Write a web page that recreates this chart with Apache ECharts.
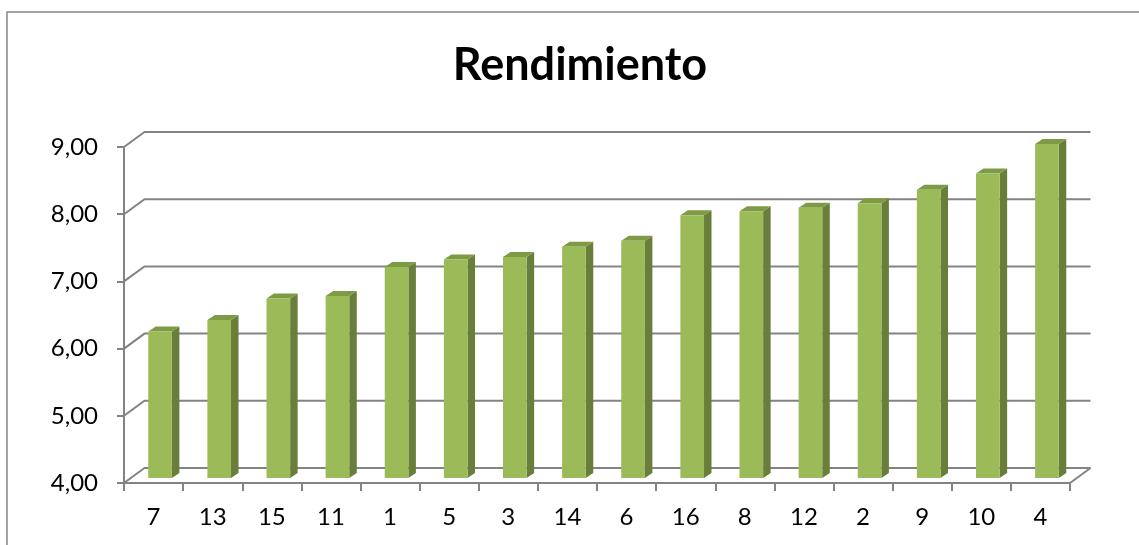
<!DOCTYPE html>
<html>
<head>
<meta charset="utf-8">
<script src="https://cdn.jsdelivr.net/npm/echarts@6/dist/echarts.min.js"></script>
<style>
  html, body { margin: 0; padding: 0; background: #fff; }
  #chart { width: 1139px; height: 545px; }
</style>
</head>
<body>
<div id="chart"></div>
<script>
// Rendimiento por alumno, ordenado de menor a mayor
const categories = ['7', '13', '15', '11', '1', '5', '3', '14', '6', '16', '8', '12', '2', '9', '10', '4'];
const values = [6.18, 6.35, 6.67, 6.71, 7.14, 7.25, 7.29, 7.44, 7.53, 7.91, 7.97, 8.02, 8.09, 8.29, 8.53, 8.97];
const yTicks = [4, 5, 6, 7, 8, 9];
const yMin = 4, yMax = 9;

const FONT = 'Lato';
// pseudo-3D depth of the wall and of each column
const WALL_DX = 20.5, WALL_DY = -15;
const BAR_DX = 7.5, BAR_DY = -5, BAR_LIFT = -5;
const LINE = '#838383';

const chart = echarts.init(document.getElementById('chart'));

function renderWall(params, api) {
  const cs = params.coordSys;
  const v = api.value(1);
  const y = api.coord([0, v])[1];
  const left = cs.x, right = cs.x + cs.width;
  const children = [{
    type: 'polyline',
    shape: { points: [[left, y], [left + WALL_DX, y + WALL_DY], [right + WALL_DX, y + WALL_DY]] },
    style: { stroke: LINE, lineWidth: 2, fill: null }
  }];
  if (v === yMin) {
    children.push({
      type: 'line',
      shape: { x1: right, y1: y, x2: right + WALL_DX, y2: y + WALL_DY },
      style: { stroke: LINE, lineWidth: 2 }
    });
  }
  return { type: 'group', children };
}

function renderColumn(params, api) {
  const i = api.value(0);
  const top = api.coord([i, api.value(1)]);
  const base = api.coord([i, yMin]);
  const band = api.size([1, 0])[0];
  const w = band * 0.4;
  const x0 = top[0] - band * 0.09;
  const yTop = top[1] + BAR_LIFT;
  const yBase = base[1] + BAR_LIFT;
  return {
    type: 'group',
    children: [
      {
        type: 'polygon',
        shape: { points: [[x0 + w, yTop], [x0 + w + BAR_DX, yTop + BAR_DY], [x0 + w + BAR_DX, yBase + BAR_DY], [x0 + w, yBase]] },
        style: { fill: '#687E3A' }
      },
      {
        type: 'polygon',
        shape: { points: [[x0, yTop], [x0 + BAR_DX, yTop + BAR_DY], [x0 + w + BAR_DX, yTop + BAR_DY], [x0 + w, yTop]] },
        style: { fill: '#7E9A45' }
      },
      {
        type: 'rect',
        shape: { x: x0, y: yTop, width: w, height: yBase - yTop },
        style: { fill: '#9BBB59' }
      }
    ]
  };
}

chart.setOption({
  animation: false,
  backgroundColor: '#fff',
  title: {
    text: 'Rendimiento',
    left: 575,
    textAlign: 'center',
    top: 38,
    textStyle: { fontFamily: FONT, fontWeight: 'bold', fontSize: 45, color: '#000' }
  },
  graphic: [{
    type: 'rect',
    shape: { x: 7, y: 12, width: 1200, height: 600 },
    style: { fill: null, stroke: '#878787', lineWidth: 1.5 },
    silent: true
  }],
  grid: { left: 124, top: 147, width: 946, height: 336 },
  xAxis: {
    type: 'category',
    data: categories,
    axisLine: { lineStyle: { color: LINE, width: 2 } },
    axisTick: { show: true, length: 8, lineStyle: { color: LINE, width: 2 } },
    axisLabel: { fontFamily: FONT, fontSize: 24, color: '#000', margin: 22 },
    splitLine: { show: false }
  },
  yAxis: {
    type: 'value',
    min: yMin,
    max: yMax,
    interval: 1,
    axisLine: { show: true, lineStyle: { color: LINE, width: 2 } },
    axisTick: { show: true, length: 7, lineStyle: { color: LINE, width: 2 } },
    axisLabel: {
      fontFamily: FONT, fontSize: 24, color: '#000', margin: 26,
      formatter: v => v.toFixed(2).replace('.', ',')
    },
    splitLine: { show: false }
  },
  series: [
    {
      type: 'custom',
      renderItem: renderWall,
      data: yTicks.map(v => [0, v]),
      encode: { x: 0, y: 1 },
      clip: false,
      silent: true,
      z: 1
    },
    {
      type: 'custom',
      name: 'Rendimiento',
      renderItem: renderColumn,
      data: values.map((v, i) => [i, v]),
      encode: { x: 0, y: 1 },
      clip: false,
      z: 3
    }
  ]
});
</script>
</body>
</html>
